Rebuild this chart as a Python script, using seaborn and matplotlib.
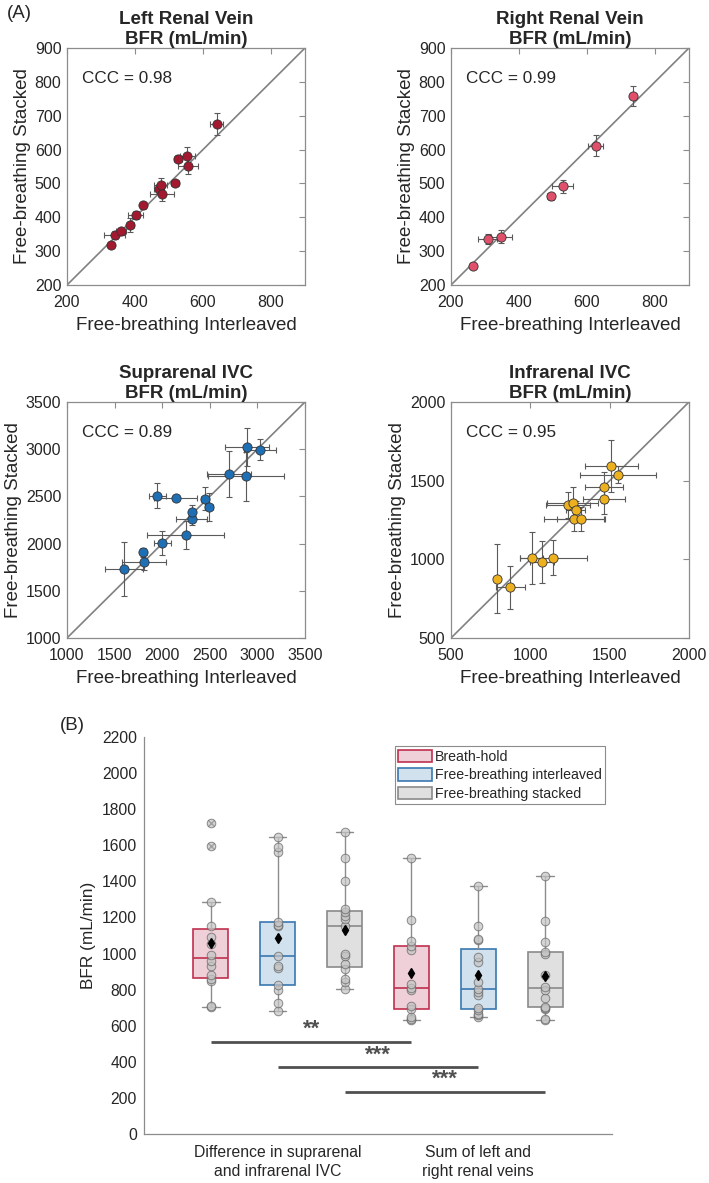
import matplotlib
matplotlib.use("Agg")
import matplotlib.pyplot as plt
from matplotlib.patches import Patch
import seaborn as sns
import pandas as pd

# --- (A) scatter data: interleaved (x) vs stacked (y), with SD error bars ---
lrv_x = [330, 340, 358, 386, 402, 423, 470, 475, 480, 518, 527, 553, 555, 640]
lrv_y = [318, 348, 360, 377, 407, 435, 484, 496, 468, 500, 573, 580, 552, 676]
lrv_xerr = [8, 30, 15, 10, 22, 8, 15, 20, 35, 12, 12, 22, 30, 18]
lrv_yerr = [8, 12, 8, 20, 12, 10, 15, 20, 20, 8, 10, 28, 25, 33]

rrv_x = [264, 308, 348, 493, 528, 626, 735]
rrv_y = [256, 337, 343, 462, 491, 612, 758]
rrv_xerr = [8, 28, 30, 10, 32, 22, 8]
rrv_yerr = [8, 15, 20, 10, 20, 30, 30]

supra_x = [1600, 1800, 1806, 2000, 1947, 2140, 2245, 2308, 2315, 2452, 2494, 2704, 2876, 2887, 3027]
supra_y = [1732, 1908, 1803, 2004, 2507, 2482, 2091, 2257, 2331, 2475, 2391, 2736, 2715, 3025, 2996]
supra_xerr = [200, 30, 230, 90, 90, 230, 400, 160, 30, 40, 40, 230, 400, 230, 170]
supra_yerr = [290, 50, 80, 130, 130, 30, 150, 60, 80, 120, 150, 240, 260, 200, 115]

infra_x = [789, 873, 1009, 1074, 1145, 1237, 1267, 1286, 1275, 1321, 1464, 1464, 1510, 1554]
infra_y = [878, 821, 1007, 984, 1011, 1345, 1356, 1311, 1258, 1256, 1457, 1385, 1592, 1539]
infra_xerr = [12, 92, 73, 75, 210, 136, 160, 60, 190, 150, 120, 130, 168, 240]
infra_yerr = [217, 137, 164, 132, 110, 85, 105, 60, 75, 75, 100, 95, 164, 55]

# --- (B) box plot data (BFR, mL/min) ---
groups = ["Difference in suprarenal\nand infrarenal IVC", "Sum of left and\nright renal veins"]
methods = ["Breath-hold", "Free-breathing interleaved", "Free-breathing stacked"]
diff_bh = [704, 710, 850, 860, 880, 930, 960, 990, 1055, 1090, 1155, 1285, 1594, 1723]
diff_fbi = [680, 725, 800, 825, 920, 930, 985, 1150, 1160, 1175, 1560, 1590, 1645]
diff_fbs = [805, 840, 860, 915, 940, 985, 1000, 1150, 1190, 1210, 1230, 1245, 1400, 1530, 1675]
sum_bh = [632, 640, 650, 690, 710, 800, 810, 830, 1020, 1040, 1070, 1185, 1527]
sum_fbi = [650, 660, 665, 685, 700, 770, 785, 805, 845, 955, 980, 1075, 1080, 1155, 1376]
sum_fbs = [632, 635, 690, 700, 705, 755, 800, 815, 880, 995, 1010, 1065, 1180, 1427]

# significance bars: (first slot, last slot, height, label)
sig_pairs = [(0, 3, 510, "**"), (1, 4, 370, "***"), (2, 5, 235, "***")]

face_colors = ["#efd0d8", "#d2e1ee", "#e0e0e0"]
edge_colors = ["#c0304f", "#3a78b0", "#8a8a8a"]

sns.set_style("white")
plt.rcParams["font.family"] = ["Liberation Sans", "DejaVu Sans"]
plt.rcParams["text.color"] = "#262626"
plt.rcParams["axes.labelcolor"] = "#262626"
plt.rcParams["xtick.color"] = "#8c8c8c"
plt.rcParams["ytick.color"] = "#8c8c8c"
plt.rcParams["xtick.labelcolor"] = "#262626"
plt.rcParams["ytick.labelcolor"] = "#262626"

W, H = 709, 1183
fig = plt.figure(figsize=(W / 100, H / 100), dpi=100)


def px_axes(left, top, right, bottom):
    return fig.add_axes([left / W, 1 - bottom / H, (right - left) / W, (bottom - top) / H])


def scatter_panel(ax, x, y, xerr, yerr, color, lim, ticks, title, ccc):
    ax.errorbar(x, y, xerr=xerr, yerr=yerr, fmt="none", ecolor="#5a5a5a",
                elinewidth=0.8, capsize=2.5, capthick=0.8, zorder=2)
    sns.scatterplot(x=x, y=y, ax=ax, color=color, edgecolor="#333333",
                    linewidth=0.6, s=44, zorder=3)
    ax.axline((lim[0], lim[0]), slope=1, color="#808080", lw=1.2, zorder=1)
    ax.set_xlim(lim)
    ax.set_ylim(lim)
    ax.set_xticks(ticks[0])
    ax.set_yticks(ticks[1])
    ax.tick_params(direction="in", top=True, right=True, labelsize=11.5, length=4, pad=4)
    ax.tick_params(axis="x", pad=7)
    for s in ax.spines.values():
        s.set_color("#8c8c8c")
        s.set_linewidth(0.9)
    ax.set_title(title, fontsize=13.5, fontweight="bold", pad=3, linespacing=1.2)
    ax.set_xlabel("Free-breathing Interleaved", fontsize=13.5, labelpad=5)
    ax.set_ylabel("Free-breathing Stacked", fontsize=13.5, labelpad=3)
    ax.text(0.065, 0.87, f"CCC = {ccc}", transform=ax.transAxes, fontsize=12.3,
            va="center", ha="left")


ax1 = px_axes(67, 48, 305, 285)
ax2 = px_axes(451, 48, 689, 285)
ax3 = px_axes(67, 402, 305, 638)
ax4 = px_axes(451, 402, 689, 638)

renal_ticks = ([200, 400, 600, 800], [200, 300, 400, 500, 600, 700, 800, 900])
scatter_panel(ax1, lrv_x, lrv_y, lrv_xerr, lrv_yerr, "#a3192f", (200, 900), renal_ticks,
              "Left Renal Vein\nBFR (mL/min)", "0.98")
scatter_panel(ax2, rrv_x, rrv_y, rrv_xerr, rrv_yerr, "#e0506a", (200, 900), renal_ticks,
              "Right Renal Vein\nBFR (mL/min)", "0.99")
supra_ticks = list(range(1000, 3501, 500))
scatter_panel(ax3, supra_x, supra_y, supra_xerr, supra_yerr, "#1f6fb5", (1000, 3500),
              (supra_ticks, supra_ticks), "Suprarenal IVC\nBFR (mL/min)", "0.89")
infra_ticks = [500, 1000, 1500, 2000]
scatter_panel(ax4, infra_x, infra_y, infra_xerr, infra_yerr, "#edb120", (500, 2000),
              (infra_ticks, infra_ticks), "Infrarenal IVC\nBFR (mL/min)", "0.95")

# --- (B) ---
series = [[diff_bh, diff_fbi, diff_fbs], [sum_bh, sum_fbi, sum_fbs]]
rows = []
slot_order = []
for g, grp in enumerate(groups):
    for m, meth in enumerate(methods):
        slot = f"{g}-{m}"
        slot_order.append(slot)
        for v in series[g][m]:
            rows.append({"slot": slot, "method": meth, "bfr": v})
df = pd.DataFrame(rows)

axb = px_axes(144, 737, 612, 1134)
for m, meth in enumerate(methods):
    sub = df[df["method"] == meth]
    sns.boxplot(data=sub, x="slot", y="bfr", order=slot_order, ax=axb, width=0.52,
                color=face_colors[m], linecolor=edge_colors[m], linewidth=1.2,
                showmeans=True,
                meanprops=dict(marker="d", markerfacecolor="black", markeredgecolor="black",
                               markersize=5.5),
                whiskerprops=dict(color="#8c8c8c", linewidth=1.0),
                capprops=dict(color="#8c8c8c", linewidth=1.0),
                flierprops=dict(marker="x", markeredgecolor="#555555", markersize=4),
                saturation=1)
sns.stripplot(data=df, x="slot", y="bfr", order=slot_order, ax=axb, jitter=False,
              color="#c4c4c4", edgecolor="#606060", linewidth=0.7, size=6.2, alpha=0.7,
              zorder=3)
for ln in axb.lines:
    if ln.get_marker() == "d":
        ln.set_zorder(5)

for a, b, hgt, lab in sig_pairs:
    axb.plot([a, b], [hgt, hgt], color="#505050", lw=2.0, solid_capstyle="butt")
    axb.text((a + b) / 2, hgt + 10, lab, ha="center", va="bottom", fontsize=16,
             fontweight="bold", color="#505050")

axb.set_xlim(-1, 6)
axb.set_ylim(0, 2200)
axb.set_yticks(range(0, 2201, 200))
axb.set_xticks([1, 4])
axb.set_xticklabels(groups, linespacing=1.35)
axb.set_xlabel("")
axb.set_ylabel("BFR (mL/min)", fontsize=12.4, labelpad=4)
axb.tick_params(direction="in", labelsize=11.3, length=4, pad=5)
axb.tick_params(axis="x", pad=8)
sns.despine(ax=axb)
for s in ("left", "bottom"):
    axb.spines[s].set_color("#8c8c8c")
    axb.spines[s].set_linewidth(0.9)

handles = [Patch(facecolor=face_colors[i], edgecolor=edge_colors[i], linewidth=1.2, label=methods[i])
           for i in range(3)]
leg = axb.legend(handles=handles, loc="upper left", bbox_to_anchor=(0.536, 0.977),
                 fontsize=10.2, frameon=True, fancybox=False, framealpha=1,
                 edgecolor="#8c8c8c", borderpad=0.25, handlelength=2.4, handleheight=1.0,
                 handletextpad=0.15, labelspacing=0.3, borderaxespad=0)
leg.get_frame().set_linewidth(0.8)

fig.text(7 / W, 1 - 14 / H, "(A)", fontsize=13.5, va="center", ha="left")
fig.text(60 / W, 1 - 725 / H, "(B)", fontsize=13.5, va="center", ha="left")

fig.savefig("out.png", dpi=100)
